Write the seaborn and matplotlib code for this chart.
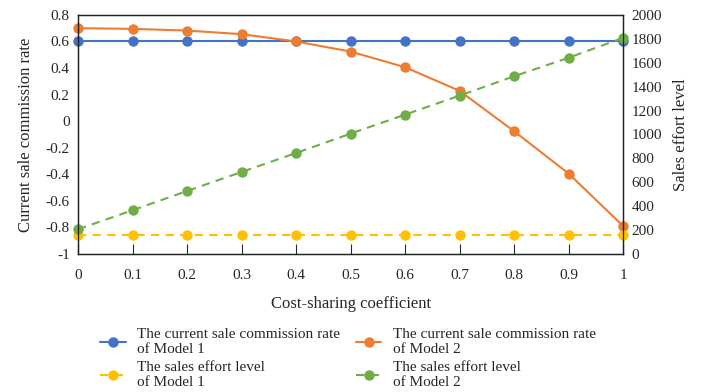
import matplotlib
matplotlib.use("Agg")
import matplotlib.pyplot as plt
import numpy as np
import pandas as pd
import seaborn as sns

# cost-sharing coefficient
coef = [0, 0.1, 0.2, 0.3, 0.4, 0.5, 0.6, 0.7, 0.8, 0.9, 1.0]
# current sale commission rate (left axis)
rate_m1 = [0.6] * 11
rate_m2 = [0.70, 0.695, 0.682, 0.655, 0.60, 0.524, 0.406, 0.228, -0.076, -0.395, -0.79]
# sales effort level (right axis)
effort_m1 = [158] * 11
effort_m2 = [207, 366, 527, 686, 845, 1007, 1166, 1325, 1487, 1642, 1808]

labels = [
    "The current sale commission rate\nof Model 1",
    "The current sale commission rate\nof Model 2",
    "The sales effort level\nof Model 1",
    "The sales effort level\nof Model 2",
]
colors = ["#4472C4", "#ED7D31", "#FFC000", "#70AD47"]

sns.set_style("ticks")
plt.rcParams["font.family"] = ["Liberation Serif", "DejaVu Serif"]
plt.rcParams["axes.unicode_minus"] = False

df = pd.DataFrame({"coef": coef, "r1": rate_m1, "r2": rate_m2,
                   "e1": effort_m1, "e2": effort_m2})

fig = plt.figure(figsize=(7.09, 3.92), dpi=100)
ax = fig.add_axes([0.110, 0.352, 0.769, 0.610])
ax2 = ax.twinx()

mk = dict(marker="o", markersize=7.5, markeredgewidth=0, clip_on=False)
sns.lineplot(data=df, x="coef", y="r1", ax=ax, color=colors[0], lw=1.5, label=labels[0], legend=False, **mk)
sns.lineplot(data=df, x="coef", y="r2", ax=ax, color=colors[1], lw=1.5, label=labels[1], legend=False, **mk)
sns.lineplot(data=df, x="coef", y="e1", ax=ax2, color=colors[2], lw=1.5, linestyle=(0, (4, 3)), label=labels[2], legend=False, **mk)
sns.lineplot(data=df, x="coef", y="e2", ax=ax2, color=colors[3], lw=1.5, linestyle=(0, (4, 3)), label=labels[3], legend=False, **mk)

ax.set_xlim(0, 1)
ax.set_ylim(-1, 0.8)
ax2.set_ylim(0, 2000)
ax.set_xticks(coef)
ax.set_xticklabels([f"{v:g}" for v in coef])
yt = np.round(np.arange(-1, 0.81, 0.2), 1)
ax.set_yticks(yt)
ax.set_yticklabels([f"{v:g}" if abs(v) > 1e-9 else "0" for v in yt])
ax2.set_yticks(range(0, 2001, 200))

ax.tick_params(axis="x", direction="in", length=7, width=0.8, labelsize=11, pad=11)
ax.tick_params(axis="y", length=0, labelsize=11, pad=6)
ax2.tick_params(axis="y", length=0, labelsize=11, pad=6)
for a in (ax, ax2):
    for s in a.spines.values():
        s.set_visible(True)
        s.set_linewidth(0.9)
        s.set_color("#222222")

ax.set_xlabel("Cost-sharing coefficient", fontsize=12, labelpad=10)
ax.set_ylabel("Current sale commission rate", fontsize=12, labelpad=8)
ax2.set_ylabel("Sales effort level", fontsize=12, labelpad=8)

h1, l1 = ax.get_legend_handles_labels()
h2, l2 = ax2.get_legend_handles_labels()
# column-wise fill: col 1 = Model 1 series, col 2 = Model 2 series
handles = [h1[0], h2[0], h1[1], h2[1]]
order = [labels[0], labels[2], labels[1], labels[3]]
leg = fig.legend(handles, order, ncol=2, loc="upper left", bbox_to_anchor=(0.13, 0.182),
                 frameon=False, fontsize=11, handlelength=1.7, columnspacing=1.0,
                 labelspacing=0.3, handletextpad=0.75, borderpad=0.0)

fig.savefig("out.png", dpi=100)
